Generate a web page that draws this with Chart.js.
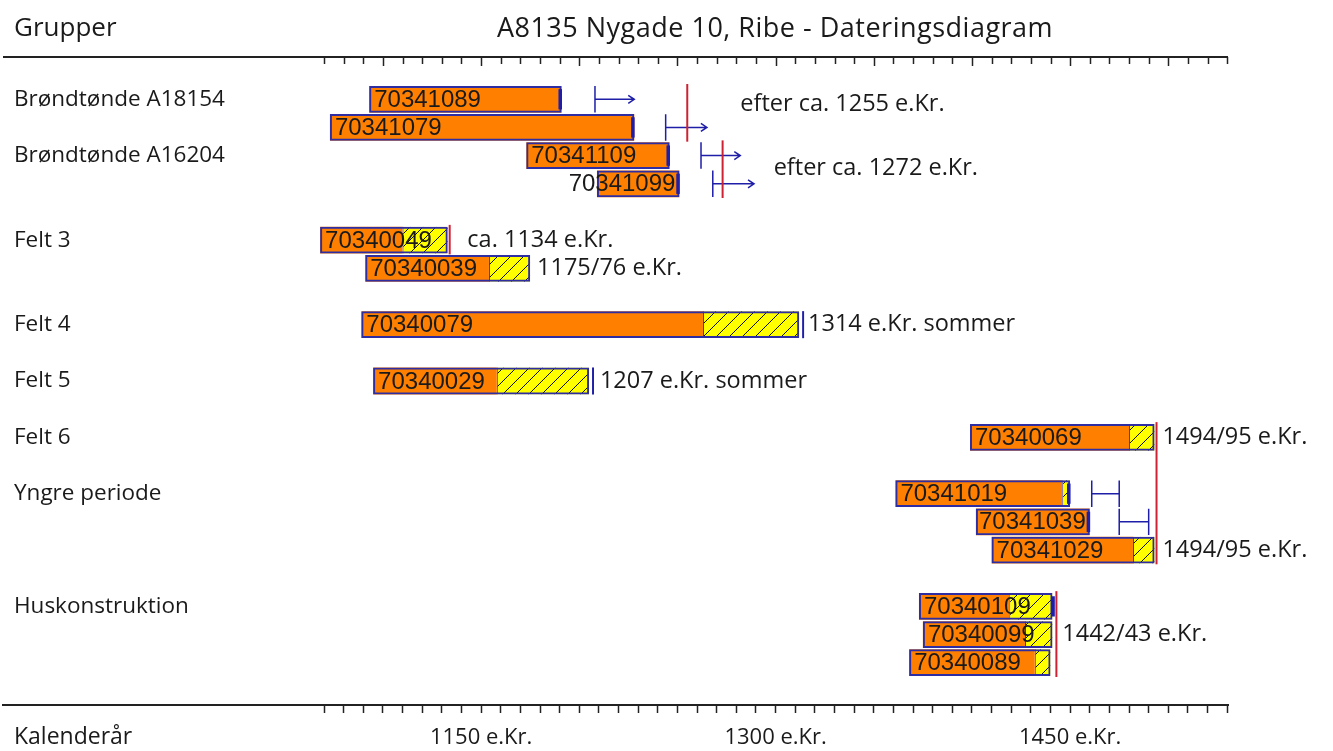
<!DOCTYPE html>
<html><head><meta charset="utf-8">
<script src="https://cdn.jsdelivr.net/npm/chart.js@4/dist/chart.umd.min.js"></script>
<style>html,body{margin:0;padding:0;background:#fff}#wrap{width:1333px;height:751px;position:relative}</style>
</head><body><div id="wrap"><canvas id="c"></canvas></div>
<script>
// ---- data ----
const rows = ['pad-top','70341089','70341079','70341109','70341099','gap-1','70340049','70340039','gap-2','70340079','gap-3','70340029','gap-4','70340069','gap-5','70341019','70341039','70341029','gap-6','70340109','70340099','70340089','pad-bottom'];
const groupLabels = ['', 'Brøndtønde A18154', '', 'Brøndtønde A16204', '', '', 'Felt 3', '', '', 'Felt 4', '', 'Felt 5', '', 'Felt 6', '', 'Yngre periode', '', '', '', 'Huskonstruktion', '', '', ''];
const startYears = [null,1093,1073,1173,1209,null,1068,1091,null,1089,null,1095,null,1399,null,1361,1402,1410,null,1373,1375,1368,null];
const heartEnds  = [null,1191,1228,1246,1251,null,1110,1154,null,1263,null,1158,null,1480,null,1446,1460,1482,null,1419,1427,1432,null];
const sapEnds    = [null,null,null,null,null,null,1133,1175,null,1312,null,1205,null,1493,null,1450,null,1493,null,1441,1441,1440,null];
const edgeMarks  = [null,1191,1228,1246,1251,null,null,null,null,null,null,null,null,null,null,1450,1460,null,null,1442,null,null,null];
const fellingMarks = [null,null,null,null,null,null,null,null,null,1314,null,1207,null,null,null,null,null,null,null,null,null,null,null];
const arrowFrom  = [null,1208,1244,1262,1268,null,null,null,null,null,null,null,null,null,null,null,null,null,null,null,null,null,null];
const arrowTo    = [null,1228,1265,1282,1289,null,null,null,null,null,null,null,null,null,null,null,null,null,null,null,null,null,null];
const rangeFrom  = [null,null,null,null,null,null,null,null,null,null,null,null,null,null,null,1461,1475,null,null,null,null,null,null];
const rangeTo    = [null,null,null,null,null,null,null,null,null,null,null,null,null,null,null,1475,1490,null,null,null,null,null,null];
const redYears    = [1255,1273,1134,1494,1443];
const redFirstRow = [1,3,6,13,19];
const redLastRow  = [2,4,6,17,21];
const noteTexts = ['efter ca. 1255 e.Kr.','efter ca. 1272 e.Kr.','ca. 1134 e.Kr.','1175/76 e.Kr.','1314 e.Kr. sommer','1207 e.Kr. sommer','1494/95 e.Kr.','1494/95 e.Kr.','1442/43 e.Kr.'];
const noteYears = [1282,1299,1143,1178.5,1316.5,1210.5,1497,1497,1446];
const noteRows  = [1.17,3.44,6,7,9,11,13,17,20];
const labeledYears = [1150,1300,1450];
const tickYears = [];
for (let yv = 1070; yv <= 1530; yv += 10) tickYears.push(yv);
const titleText = 'A8135 Nygade 10, Ribe - Dateringsdiagram';
const groupHeader = 'Grupper';
const axisHeader = 'Kalenderår';

// ---- styles ----
const ORANGE = '#FF8000', YELLOW = '#FFFF00', FRAME = '#2E2EA2', MARK = '#1E1EA8', RED = '#CC2233', INK = '#1a1a1a';
const TXT = '"Open Sans", "DejaVu Sans", sans-serif';
const NUM = '"Liberation Sans", Arial, sans-serif';

function hatch() {
  const s = 13, c = document.createElement('canvas');
  c.width = s; c.height = s;
  const g = c.getContext('2d');
  g.fillStyle = YELLOW; g.fillRect(0,0,s,s);
  g.strokeStyle = '#111'; g.lineWidth = 1;
  g.beginPath();
  g.moveTo(-1, s+1); g.lineTo(s+1, -1);
  g.moveTo(-2, 2); g.lineTo(2, -2);
  g.moveTo(s-2, s+2); g.lineTo(s+2, s-2);
  g.stroke();
  return g.createPattern(c, 'repeat');
}

function build() {
  const ctx0 = document.getElementById('c').getContext('2d');
  const heartData = rows.map((r,i) => startYears[i] == null ? null : [startYears[i], heartEnds[i]]);
  const sapData = rows.map((r,i) => sapEnds[i] == null ? null : [heartEnds[i], sapEnds[i]]);
  const outlineData = rows.map((r,i) => startYears[i] == null ? null : [startYears[i], sapEnds[i] ?? heartEnds[i]]);
  const edgeData = edgeMarks.map(v => v == null ? null : [v - 1.6, v + 0.2]);
  const fellData = fellingMarks.map(v => v == null ? null : [v - 0.5, v + 0.5]);

  const deco = {
    id: 'deco',
    afterDatasetsDraw(chart) {
      const {ctx, scales: {x, y}} = chart;
      const band = y.getPixelForValue(1) - y.getPixelForValue(0);
      const half = band * 0.47;
      ctx.save();
      // sample numbers
      ctx.font = '24px ' + NUM;
      ctx.fillStyle = INK;
      ctx.textBaseline = 'middle';
      rows.forEach((r,i) => {
        if (startYears[i] == null) return;
        const x0 = x.getPixelForValue(startYears[i]);
        const x1 = x.getPixelForValue(sapEnds[i] ?? heartEnds[i]);
        const yc = y.getPixelForValue(i);
        const w = ctx.measureText(r).width;
        if (w + 10 <= x1 - x0) { ctx.textAlign = 'left'; ctx.fillText(r, x0 + 5, yc + 1); }
        else { ctx.textAlign = 'right'; ctx.fillText(r, x1 - 4, yc + 1); }
      });
      // arrows  |-->
      ctx.strokeStyle = MARK; ctx.lineWidth = 1.5;
      arrowFrom.forEach((v,i) => {
        if (v == null) return;
        const a = x.getPixelForValue(v), b = x.getPixelForValue(arrowTo[i]), yc = y.getPixelForValue(i);
        ctx.beginPath();
        ctx.moveTo(a, yc - half); ctx.lineTo(a, yc + half);
        ctx.moveTo(a, yc); ctx.lineTo(b, yc);
        ctx.moveTo(b - 6, yc - 4); ctx.lineTo(b, yc); ctx.lineTo(b - 6, yc + 4);
        ctx.stroke();
      });
      // ranges |--|
      rangeFrom.forEach((v,i) => {
        if (v == null) return;
        const a = x.getPixelForValue(v), b = x.getPixelForValue(rangeTo[i]), yc = y.getPixelForValue(i);
        ctx.beginPath();
        ctx.moveTo(a, yc - half); ctx.lineTo(a, yc + half);
        ctx.moveTo(b, yc - half); ctx.lineTo(b, yc + half);
        ctx.moveTo(a, yc); ctx.lineTo(b, yc);
        ctx.stroke();
      });
      // red dating lines
      ctx.strokeStyle = RED; ctx.lineWidth = 2;
      redYears.forEach((v,k) => {
        const px = x.getPixelForValue(v);
        const t = y.getPixelForValue(redFirstRow[k]) - half - 2;
        const b = y.getPixelForValue(redLastRow[k]) + half + 1;
        ctx.beginPath(); ctx.moveTo(px, t); ctx.lineTo(px, b); ctx.stroke();
      });
      // notes
      ctx.font = '23.5px ' + TXT;
      ctx.fillStyle = INK; ctx.textAlign = 'left'; ctx.textBaseline = 'middle';
      noteTexts.forEach((t,k) => {
        ctx.fillText(t, x.getPixelForValue(noteYears[k]), y.getPixelForValue(noteRows[k]));
      });
      ctx.restore();
    },
    afterDraw(chart) {
      const {ctx, chartArea, scales: {x}} = chart;
      ctx.save();
      // top axis line with ticks pointing down
      ctx.strokeStyle = '#222'; ctx.lineWidth = 2;
      const ty = chartArea.top;
      ctx.beginPath(); ctx.moveTo(chartArea.left, ty); ctx.lineTo(chartArea.right, ty); ctx.stroke();
      ctx.lineWidth = 1.5;
      x.ticks.forEach(t => {
        const px = Math.round(x.getPixelForValue(t.value)) + 0.5;
        const len = (t.value % 50 === 0) ? 9 : 7;
        ctx.beginPath(); ctx.moveTo(px, ty); ctx.lineTo(px, ty + len); ctx.stroke();
      });
      // headers
      ctx.fillStyle = INK; ctx.textBaseline = 'middle';
      ctx.font = '26px ' + TXT;
      ctx.textAlign = 'left';
      ctx.fillText(groupHeader, 14, 29);
      ctx.font = '27px ' + TXT;
      ctx.textAlign = 'center';
      if ('letterSpacing' in ctx) ctx.letterSpacing = '0.5px';
      ctx.fillText(titleText, 775, 29);
      if ('letterSpacing' in ctx) ctx.letterSpacing = '0px';
      ctx.font = '23px ' + TXT;
      ctx.textAlign = 'left';
      ctx.fillText(axisHeader, 14, 737);
      ctx.restore();
    }
  };

  new Chart(ctx0, {
    type: 'bar',
    data: {
      labels: rows,
      datasets: [
        { label: 'edge', data: edgeData, backgroundColor: MARK, borderWidth: 0, barPercentage: 0.72, categoryPercentage: 1, grouped: false, order: 1 },
        { label: 'felling', data: fellData, backgroundColor: MARK, borderWidth: 0, barPercentage: 0.96, categoryPercentage: 1, grouped: false, order: 1 },
        { label: 'outline', data: outlineData, backgroundColor: 'rgba(0,0,0,0)', borderColor: FRAME, borderWidth: 2, borderSkipped: false, barPercentage: 0.95, categoryPercentage: 1, grouped: false, order: 2 },
        { label: 'sapwood', data: sapData, backgroundColor: hatch(), borderColor: FRAME, borderWidth: {left: 1, right: 0, top: 0, bottom: 0}, borderSkipped: false, barPercentage: 0.95, categoryPercentage: 1, grouped: false, order: 3 },
        { label: 'heartwood', data: heartData, backgroundColor: ORANGE, borderWidth: 0, barPercentage: 0.95, categoryPercentage: 1, grouped: false, order: 4 }
      ]
    },
    options: {
      indexAxis: 'y',
      responsive: true,
      maintainAspectRatio: false,
      animation: false,
      events: [],
      layout: { padding: { top: 57, left: 3, right: 105, bottom: 0 } },
      plugins: { legend: { display: false }, tooltip: { enabled: false }, title: { display: false } },
      scales: {
        x: {
          type: 'linear', position: 'bottom', min: 906.5, max: 1530.4,
          afterBuildTicks: (scale) => { scale.ticks = tickYears.map(v => ({ value: v })); },
          afterFit: (s) => { s.height = 46; },
          grid: { drawOnChartArea: false, drawTicks: true, tickLength: 8, tickColor: '#222', tickWidth: 1.5 },
          border: { display: true, color: '#222', width: 2 },
          ticks: { autoSkip: false, maxRotation: 0, padding: 12, color: INK, font: { family: TXT, size: 22 },
            callback: (v) => labeledYears.includes(v) ? v + ' e.Kr.' : '' }
        },
        y: {
          type: 'category', offset: true,
          afterFit: (s) => { s.width = 0; s.paddingTop = 0; s.paddingBottom = 0; },
          grid: { display: false, drawTicks: false },
          border: { display: false },
          ticks: { mirror: true, crossAlign: 'near', padding: 11, autoSkip: false, color: INK, font: { family: TXT, size: 22.5 },
            callback: (v, i) => groupLabels[i] }
        }
      }
    },
    plugins: [deco]
  });
}

Promise.all([
  document.fonts.load('22px "Open Sans"'),
  document.fonts.load('23px "Liberation Sans"')
]).catch(() => {}).finally(build);
</script>
</body></html>
